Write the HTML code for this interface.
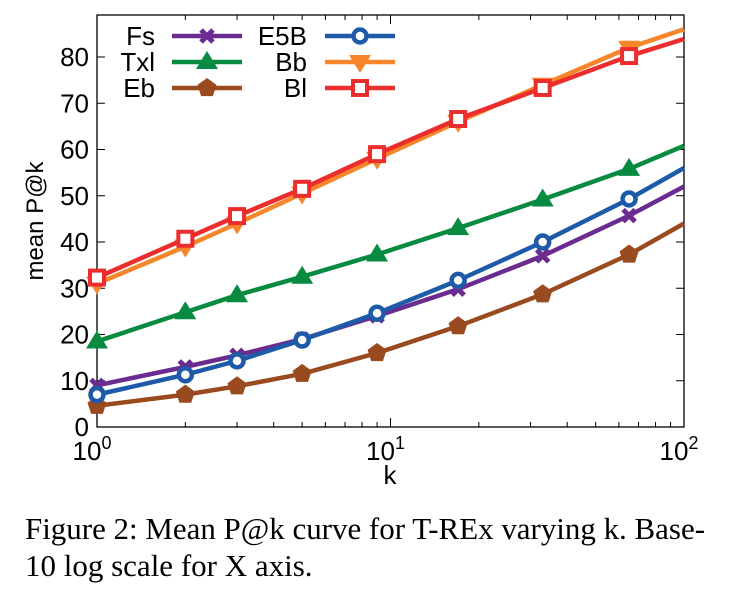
<!DOCTYPE html>
<html><head><meta charset="utf-8"><style>
body{margin:0;background:#fff;width:732px;height:589px;overflow:hidden}
svg text{font-family:"Liberation Sans",sans-serif;fill:#000}
svg text.cap{font-family:"Liberation Serif",serif;font-size:31px}
</style></head><body>
<svg id="chart" width="732" height="589" style="position:absolute;left:0;top:0">
<text class="cap" x="25" y="539" textLength="680" lengthAdjust="spacingAndGlyphs">Figure 2: Mean P@k curve for T-REx varying k. Base-</text>
<text class="cap" x="25" y="576">10 log scale for X axis.</text>
</svg>
<script>
const kValues=[1,2,3,5,9,17,33,65,100];
const fsVals=[9,13,15.5,19,24,29.8,37,45.7,52];
const txlVals=[18.5,24.8,28.5,32.5,37.3,43,49.2,55.8,60.8];
const ebVals=[4.6,7,8.8,11.5,16,21.8,28.7,37.3,44];
const e5bVals=[7,11.3,14.3,18.8,24.6,31.7,40,49.3,56];
const bbVals=[31,39,44,50.5,58,66,74,82,86];
const blVals=[32.3,40.7,45.6,51.5,59,66.6,73.3,80.2,83.9];
const yTicks=[0,10,20,30,40,50,60,70,80];
const xDecades=[0,1,2];
const NS="http://www.w3.org/2000/svg";
const svg=document.getElementById('chart');
const L=97,R=684,T=15,B=427;
function xs(k){return L+(R-L)*Math.log10(k)/2;}
function ys(v){return B-v*46.25/10;}
function mk(tag,attrs,parent){const e=document.createElementNS(NS,tag);for(const a in attrs)e.setAttribute(a,attrs[a]);(parent||svg).appendChild(e);return e;}
const fr=mk('rect',{x:L,y:T,width:R-L,height:B-T,fill:'none',stroke:'#000','stroke-width':1.3});


yTicks.forEach(v=>{
 const t=mk('path',{d:`M${L},${ys(v)}h8M${R},${ys(v)}h-8`,stroke:'#000','stroke-width':1});
 
 
 const tx=mk('text',{x:L-8,y:ys(v)+9,'text-anchor':'end','font-size':26});tx.textContent=v;
 
 
});
for(let d=0;d<2;d++)for(let m=2;m<=9;m++){
 const x=xs(m*Math.pow(10,d));
 const t=mk('path',{d:`M${x},${B}v-5M${x},${T}v5`,stroke:'#000','stroke-width':1});
 
 
}
xDecades.forEach(d=>{
 const x=xs(Math.pow(10,d));
 const t=mk('path',{d:`M${x},${B}v-9M${x},${T}v9`,stroke:'#000','stroke-width':1});
 
 
 const tx=mk('text',{x:x-5,y:B+33,'text-anchor':'middle','font-size':26});
 tx.textContent='10';
 const s=mk('tspan',{dy:-11,'font-size':18},tx);s.textContent=d;
 
 
});
const xl=mk('text',{x:390,y:484,'text-anchor':'middle','font-size':26});xl.textContent='k';


const yl=mk('text',{x:43,y:221,'text-anchor':'middle','font-size':24,transform:'rotate(-90 43 221)'});yl.textContent='mean P@k';


function marker(type,x,y,c,g){
 let e;
 if(type==='x'){e=mk('path',{d:`M${x-6},${y-6}L${x+6},${y+6}M${x-6},${y+6}L${x+6},${y-6}`,stroke:c,'stroke-width':5},g);}
 else if(type==='tri'){e=mk('path',{d:`M${x},${y-11}L${x+11},${y+7}L${x-11},${y+7}Z`,fill:c},g);}
 else if(type==='pent'){let p=[];for(let i=0;i<5;i++){const a=-Math.PI/2+i*2*Math.PI/5;p.push((x+10*Math.cos(a))+','+(y+10*Math.sin(a)));}e=mk('polygon',{points:p.join(' '),fill:c},g);}
 else if(type==='circ'){e=mk('circle',{cx:x,cy:y,r:6.5,fill:'#fff',stroke:c,'stroke-width':4.5},g);}
 else if(type==='dtri'){e=mk('path',{d:`M${x},${y+11}L${x+11},${y-7}L${x-11},${y-7}Z`,fill:c},g);}
 else if(type==='sq'){e=mk('rect',{x:x-7,y:y-7,width:14,height:14,fill:'#fff',stroke:c,'stroke-width':4},g);}
 return e;
}
const series=[
 {name:'Fs',vals:fsVals,c:'#6a2c91',m:'x'},
 {name:'Txl',vals:txlVals,c:'#098a41',m:'tri'},
 {name:'Eb',vals:ebVals,c:'#9a4a1f',m:'pent'},
 {name:'E5B',vals:e5bVals,c:'#1d5aa8',m:'circ'},
 {name:'Bb',vals:bbVals,c:'#f7852a',m:'dtri'},
 {name:'Bl',vals:blVals,c:'#ec2d2d',m:'sq'}];
const order=[2,0,3,1,4,5];
order.forEach(i=>{
 const s=series[i];
 const g=mk('g',{});
 
 
 const d=s.vals.map((v,j)=>(j?'L':'M')+xs(kValues[j])+','+ys(v)).join('');
 mk('path',{d:d,fill:'none',stroke:s.c,'stroke-width':4.5,'stroke-linejoin':'round'},g);
 s.vals.forEach((v,j)=>{if(kValues[j]<100){const m=marker(s.m,xs(kValues[j]),ys(v),s.c,g);
  
  }});
});
series.forEach((s,i)=>{
 const col=Math.floor(i/3),row=i%3;
 const tx=col?307:155, lx=col?325:172, y=36+row*26;
 const g=mk('g',{});
 
 
 const t=mk('text',{x:tx,y:y+9,'text-anchor':'end','font-size':26},g);t.textContent=s.name;
 mk('path',{d:`M${lx},${y}h70`,stroke:s.c,'stroke-width':4.5},g);
 marker(s.m,lx+35,y,s.c,g);
});
</script>
</body></html>
